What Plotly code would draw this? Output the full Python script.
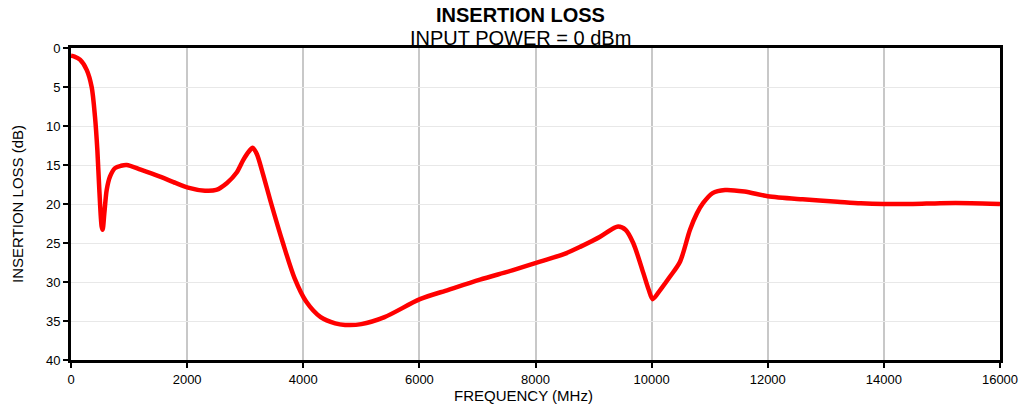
import plotly.graph_objects as go

freq_mhz = [0, 60, 155, 270, 356, 413, 454, 488, 528, 545, 574, 615, 671, 758, 860, 960, 1200, 1533, 1800, 2015, 2308, 2500, 2687, 2850, 2963, 3060, 3129, 3200, 3300, 3450, 3650, 3850, 4050, 4300, 4550, 4720, 5000, 5400, 6010, 6500, 7044, 7600, 8078, 8500, 8768, 9112, 9300, 9424, 9550, 9683, 9855, 9950, 10019, 10150, 10317, 10489, 10661, 10780, 10885, 11050, 11265, 11600, 12000, 12600, 13200, 13600, 14000, 14500, 14970, 15500, 16000]
loss_db = [1.0, 1.1, 1.5, 2.8, 5.0, 8.8, 13.1, 18.2, 22.9, 23.3, 21.2, 18.2, 16.5, 15.4, 15.1, 15.0, 15.6, 16.5, 17.3, 17.9, 18.3, 18.2, 17.3, 16.0, 14.4, 13.3, 12.8, 13.6, 16.0, 20.0, 25.0, 29.5, 32.5, 34.5, 35.3, 35.5, 35.4, 34.5, 32.2, 31.0, 29.7, 28.5, 27.4, 26.4, 25.5, 24.2, 23.3, 22.9, 23.3, 25.0, 28.8, 31.0, 32.2, 31.0, 29.3, 27.4, 23.3, 21.2, 19.9, 18.6, 18.2, 18.4, 19.0, 19.4, 19.7, 19.9, 20.0, 20.0, 19.9, 19.9, 20.0]

x_ticks = [0, 2000, 4000, 6000, 8000, 10000, 12000, 14000, 16000]
y_ticks = [0, 5, 10, 15, 20, 25, 30, 35, 40]

fig = go.Figure()
fig.add_trace(go.Scatter(
    x=freq_mhz, y=loss_db, mode="lines",
    line=dict(color="#ff0000", width=4.5, shape="spline", smoothing=0.8),
    showlegend=False,
))

font_family = "Liberation Sans, Arial, sans-serif"

fig.update_layout(
    width=1024, height=406,
    margin=dict(l=71, r=24, t=48, b=46),
    paper_bgcolor="white", plot_bgcolor="white",
    font=dict(family=font_family, size=13, color="black"),
    annotations=[
        dict(text="<b>INSERTION LOSS</b>", xref="paper", yref="paper",
             x=0.484, y=1.0, xanchor="center", yanchor="middle", yshift=33,
             showarrow=False, font=dict(size=20)),
        dict(text="INPUT POWER = 0 dBm", xref="paper", yref="paper",
             x=0.484, y=1.0, xanchor="center", yanchor="middle", yshift=10,
             showarrow=False, font=dict(size=20)),
        dict(text="FREQUENCY (MHz)", xref="paper", yref="paper",
             x=0.487, y=0.0, xanchor="center", yanchor="middle", yshift=-35,
             showarrow=False, font=dict(size=15)),
        dict(text="INSERTION LOSS (dB)", xref="paper", yref="paper",
             x=0.0, y=0.5, xanchor="center", yanchor="middle", xshift=-54,
             textangle=-90, showarrow=False, font=dict(size=15)),
    ],
)

fig.update_xaxes(
    range=[0, 16000], tickvals=x_ticks, ticktext=[str(v) for v in x_ticks],
    showgrid=True, gridcolor="#c8c8c8", gridwidth=2,
    showline=True, linecolor="black", linewidth=3, mirror=True,
    ticks="outside", ticklen=5, tickwidth=2, tickcolor="black",
    zeroline=False, automargin=False,
)
fig.update_yaxes(
    range=[40, 0], tickvals=y_ticks, ticktext=[str(v) for v in y_ticks],
    showgrid=True, gridcolor="#e8e8e8", gridwidth=1,
    showline=True, linecolor="black", linewidth=3, mirror=True,
    ticks="outside", ticklen=5, tickwidth=2, tickcolor="black",
    zeroline=False, automargin=False,
)

fig.write_html(
    "out.html",
    config={"displayModeBar": False},
    post_script="document.body.style.margin='0px';document.body.style.overflow='hidden';",
)
